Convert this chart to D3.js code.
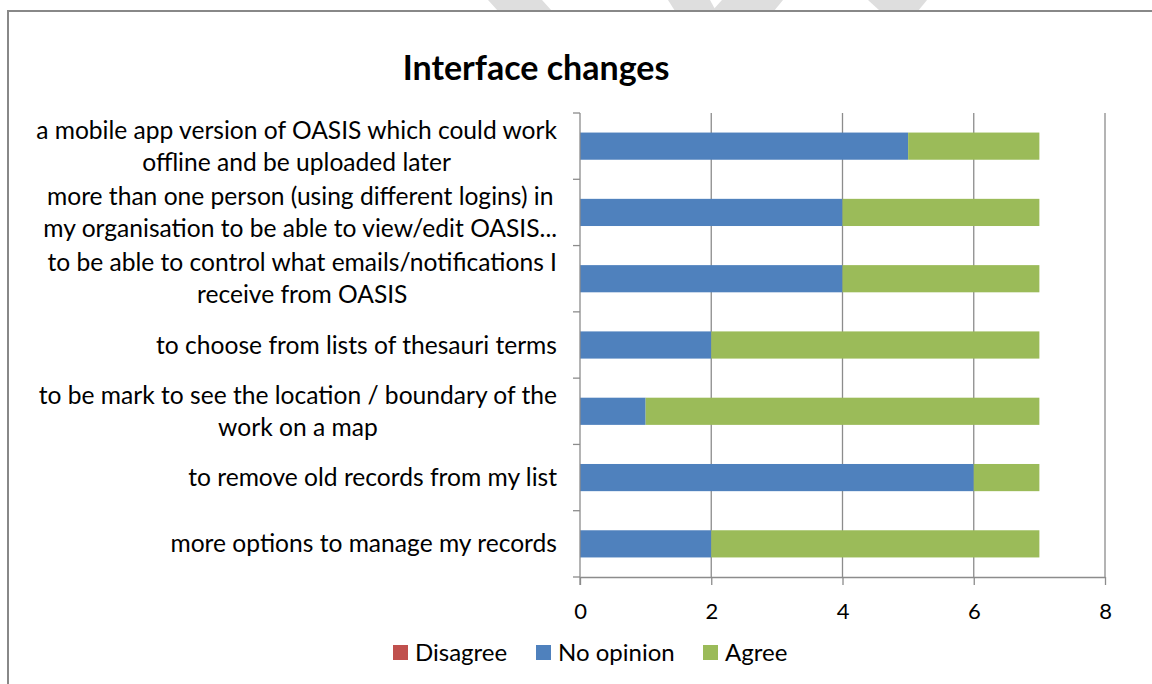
<!DOCTYPE html>
<html>
<head>
<meta charset="utf-8">
<script src="https://cdn.jsdelivr.net/npm/d3@7"></script>
<style>
  html, body { margin: 0; padding: 0; background: #fff; }
  svg { display: block; }
  text { font-family: Lato, "Open Sans", sans-serif; fill: #000; }
</style>
</head>
<body>
<div id="chart"></div>
<script>
// categories, top to bottom, each split in lines as in the original
var categories = [
  ["a mobile app version of OASIS which could work", "offline and be uploaded later"],
  ["more than one person (using different logins) in", "my organisation to be able to view/edit OASIS..."],
  ["to be able to control what emails/notifications I", "receive from OASIS"],
  ["to choose from lists of thesauri terms"],
  ["to be mark to see the location / boundary of the", "work on a map"],
  ["to remove old records from my list"],
  ["more options to manage my records"]
];
var seriesNames = ["Disagree", "No opinion", "Agree"];
var seriesColors = ["#C0504D", "#4F81BD", "#9BBB59"];
var disagree  = [0, 0, 0, 0, 0, 0, 0];
var noOpinion = [5, 4, 4, 2, 1, 6, 2];
var agree     = [2, 3, 3, 5, 6, 1, 5];
var xTicks = [0, 2, 4, 6, 8];

var W = 1152, H = 684;
var svg = d3.select('#chart').append('svg').attr('width', W).attr('height', H);

// faint watermark pieces poking out above the frame
var wm = [
  [[488, 0], [542, 0], [552, 11], [498, 11]],
  [[668, 0], [710, 0], [716, 11], [675, 11]],
  [[722, 0], [783, 0], [774, 11], [712, 11]],
  [[868, 0], [927, 0], [918, 11], [880, 11]]
];
svg.selectAll('polygon.wm').data(wm).enter().append('polygon')
  .attr('class', 'wm')
  .attr('points', function(d) { return d.map(function(p) { return p.join(','); }).join(' '); })
  .style('fill', '#dedede');

// chart frame
svg.append('rect')
  .attr('x', 8).attr('y', 11).attr('width', W + 10).attr('height', H + 10)
  .style('fill', '#fff').style('stroke', '#888').style('stroke-width', 2);

var plotLeft = 580, plotRight = 1105, plotTop = 113, plotBottom = 577;

var rows = categories.map(function(c, i) {
  return { key: i, Disagree: disagree[i], 'No opinion': noOpinion[i], Agree: agree[i] };
});

var x = d3.scaleLinear().domain([0, 8]).range([plotLeft, plotRight]);
var yOuter = d3.scaleBand().domain(d3.range(categories.length)).range([plotTop, plotBottom]);
var y = d3.scaleBand().domain(d3.range(categories.length)).range([plotTop, plotBottom])
  .paddingInner(0.59).paddingOuter(0.295);

var g = svg.append('g');

// vertical gridlines
g.selectAll('line.grid').data(xTicks.filter(function(t) { return t > 0; })).enter().append('line')
  .attr('x1', function(d) { return x(d); }).attr('x2', function(d) { return x(d); })
  .attr('y1', plotTop).attr('y2', plotBottom)
  .style('stroke', '#8c8c8c').style('stroke-width', 1.3);

// stacked bars
var stack = d3.stack().keys(seriesNames)(rows);
g.selectAll('g.series').data(stack).enter().append('g')
  .attr('class', 'series')
  .style('fill', function(d, i) { return seriesColors[i]; })
  .selectAll('rect').data(function(d) { return d; }).enter().append('rect')
  .attr('x', function(d) { return x(d[0]); })
  .attr('width', function(d) { return x(d[1]) - x(d[0]); })
  .attr('y', function(d) { return y(d.data.key); })
  .attr('height', y.bandwidth());

// x axis
var xAxis = d3.axisBottom(x).tickValues(xTicks).tickSize(8).tickPadding(18).tickSizeOuter(0);
var xg = svg.append('g').attr('transform', 'translate(0,' + plotBottom + ')').call(xAxis);
xg.select('.domain').style('stroke', '#8c8c8c').style('stroke-width', 1.3);
xg.selectAll('.tick line').style('stroke', '#8c8c8c').style('stroke-width', 1.3);
xg.selectAll('.tick text').style('font-size', '22px').style('font-family', 'Lato, sans-serif').style('fill', '#000')
  .attr('dy', '0.71em');

// y axis line and boundary ticks
svg.append('line').attr('x1', plotLeft).attr('x2', plotLeft).attr('y1', plotTop).attr('y2', plotBottom + 8)
  .style('stroke', '#8c8c8c').style('stroke-width', 1.3);
var bounds = d3.range(categories.length + 1).map(function(i) {
  return i < categories.length ? yOuter(i) : plotBottom;
});
svg.selectAll('line.ytick').data(bounds).enter().append('line')
  .attr('x1', plotLeft - 7).attr('x2', plotLeft)
  .attr('y1', function(d) { return d; }).attr('y2', function(d) { return d; })
  .style('stroke', '#8c8c8c').style('stroke-width', 1.3);

// category labels
var labelSize = 22, lineH = 32;
var labels = svg.append('g');
categories.forEach(function(lines, i) {
  var cy = yOuter(i) + yOuter.bandwidth() / 2;
  var t = labels.append('text').style('font-size', labelSize + 'px');
  lines.forEach(function(s, j) {
    t.append('tspan').text(s)
      .attr('y', cy + (j - (lines.length - 1) / 2) * lineH)
      .attr('dy', '0.35em');
  });
});
// fit label size to the width of the longest line in the original (521px)
var widest = 0;
labels.selectAll('tspan').each(function() { widest = Math.max(widest, this.getComputedTextLength()); });
labelSize = labelSize * 521 / widest;
labels.selectAll('text').style('font-size', labelSize.toFixed(2) + 'px');
labels.selectAll('text').each(function() {
  var spans = d3.select(this).selectAll('tspan');
  var w = 0;
  spans.each(function() { w = Math.max(w, this.getComputedTextLength()); });
  var center = 557 - w / 2;
  spans.attr('x', center).attr('text-anchor', 'middle');
});

// title
svg.append('text')
  .attr('x', 536).attr('y', 80)
  .attr('text-anchor', 'middle')
  .style('font-size', '34px').style('font-weight', 'bold')
  .text('Interface changes');

// legend
var legendX = [393, 536, 703];
var lg = svg.append('g').selectAll('g').data(seriesNames).enter().append('g')
  .attr('transform', function(d, i) { return 'translate(' + legendX[i] + ',645)'; });
lg.append('rect').attr('width', 15).attr('height', 15)
  .style('fill', function(d, i) { return seriesColors[i]; });
lg.append('text').attr('x', 22).attr('y', 16).style('font-size', '24px')
  .text(function(d) { return d; });
</script>
</body>
</html>
